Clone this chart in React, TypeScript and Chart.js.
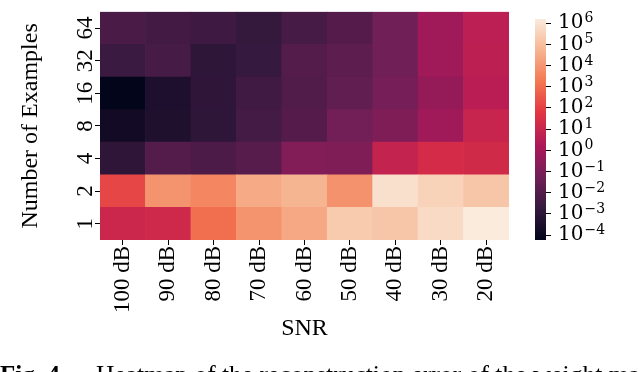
import React, { useEffect, useRef } from 'react';
import { Chart, registerables } from 'chart.js';

Chart.register(...registerables);

// ---- data (log10 of the reconstruction error) ----
const snrLabels = ['100 dB', '90 dB', '80 dB', '70 dB', '60 dB', '50 dB', '40 dB', '30 dB', '20 dB'];
const exampleLabels = ['1', '2', '4', '8', '16', '32', '64'];
const logErr1 = [1.09, 1.19, 3.07, 3.94, 4.43, 5.3, 5.21, 5.73, 6.2];
const logErr2 = [2.15, 3.94, 3.6, 4.47, 4.74, 3.9, 5.9, 5.52, 5.16];
const logErr4 = [-2.93, -1.99, -2.14, -1.88, -0.79, -0.89, 0.88, 1.35, 1.25];
const logErr8 = [-3.76, -3.4, -2.98, -2.35, -1.94, -1.21, -0.89, -0.08, 0.99];
const logErr16 = [-4.23, -3.45, -2.93, -2.46, -2.04, -1.62, -1.1, -0.37, 0.57];
const logErr32 = [-2.61, -2.31, -2.98, -2.72, -1.96, -1.73, -1.25, -0.08, 0.67];
const logErr64 = [-2.21, -2.38, -2.51, -2.77, -2.31, -1.94, -1.25, -0.08, 0.64];
const colorbarExponents = [-4, -3, -2, -1, 0, 1, 2, 3, 4, 5, 6];

const rows = [logErr1, logErr2, logErr4, logErr8, logErr16, logErr32, logErr64];
const allVals = rows.flat();
const vmin = Math.min(...allVals);
const vmax = Math.max(...allVals);

// ---- "rocket" colormap anchors (style) ----
const rocket: [number, number, number, number][] = [
  [0, 3, 5, 26],
  [1 / 7, 53, 25, 62],
  [2 / 7, 112, 31, 87],
  [3 / 7, 173, 23, 89],
  [4 / 7, 225, 51, 66],
  [5 / 7, 243, 118, 81],
  [6 / 7, 246, 180, 143],
  [1, 250, 235, 221],
];

function rocketColor(t: number): string {
  const x = Math.max(0, Math.min(1, t));
  for (let i = 0; i < rocket.length - 1; i++) {
    const a = rocket[i];
    const b = rocket[i + 1];
    if (x <= b[0]) {
      const f = (x - a[0]) / (b[0] - a[0]);
      const r = Math.round(a[1] + (b[1] - a[1]) * f);
      const g = Math.round(a[2] + (b[2] - a[2]) * f);
      const bl = Math.round(a[3] + (b[3] - a[3]) * f);
      return `rgb(${r},${g},${bl})`;
    }
  }
  const l = rocket[rocket.length - 1];
  return `rgb(${l[1]},${l[2]},${l[3]})`;
}

const SERIF = "'Liberation Serif', 'Times New Roman', serif";
const CB_FONT = "'DejaVu Serif', serif";

export default function App() {
  const mainRef = useRef<HTMLCanvasElement | null>(null);
  const cbRef = useRef<HTMLCanvasElement | null>(null);

  useEffect(() => {
    if (!mainRef.current || !cbRef.current) return;

    const captionPlugin = {
      id: 'caption',
      afterDraw(chart: any) {
        const ctx = chart.ctx;
        ctx.save();
        ctx.fillStyle = '#000';
        ctx.textBaseline = 'alphabetic';
        ctx.textAlign = 'left';
        ctx.font = `bold 25px ${SERIF}`;
        ctx.fillText('Fig. 4.', 0, 383);
        ctx.font = `25.5px ${SERIF}`;
        ctx.fillText('Heatmap of the reconstruction error of the weight matrix', 96, 383);
        ctx.restore();
      },
    };

    const main = new Chart(mainRef.current, {
      type: 'bar',
      data: {
        labels: snrLabels,
        datasets: rows.map((row, i) => ({
          label: exampleLabels[i],
          data: row.map(() => 1),
          backgroundColor: row.map((v) => rocketColor((v - vmin) / (vmax - vmin))),
          borderWidth: 0,
          barPercentage: 1,
          categoryPercentage: 1,
        })),
      },
      options: {
        responsive: false,
        animation: false,
        layout: { padding: { left: 0, top: 10, right: 131, bottom: 0 } },
        plugins: { legend: { display: false }, tooltip: { enabled: false } },
        scales: {
          x: {
            stacked: true,
            grid: { offset: false, drawOnChartArea: false, drawTicks: true, tickLength: 5, color: '#000', lineWidth: 1 },
            border: { display: false },
            ticks: {
              minRotation: 90,
              maxRotation: 90,
              autoSkip: false,
              color: '#000',
              padding: 1,
              font: { family: SERIF, size: 23 },
            },
            title: {
              display: true,
              text: 'SNR',
              color: '#000',
              font: { family: SERIF, size: 24, lineHeight: 1.2 },
              padding: { top: 0, bottom: 28.6 },
            },
            afterFit: (s: any) => {
              s.height = 132;
            },
          },
          y: {
            stacked: true,
            min: 0,
            max: 7,
            afterBuildTicks: (s: any) => {
              s.ticks = exampleLabels.map((_, i) => ({ value: i + 0.5 }));
            },
            grid: { drawOnChartArea: false, drawTicks: true, tickLength: 5, color: '#000', lineWidth: 1 },
            border: { display: false },
            ticks: {
              callback: (_v: any, i: number) => exampleLabels[i],
              minRotation: 90,
              maxRotation: 90,
              crossAlign: 'center',
              autoSkip: false,
              padding: -2,
              color: '#000',
              font: { family: SERIF, size: 23 },
            },
            title: {
              display: true,
              text: 'Number of Examples',
              color: '#000',
              font: { family: SERIF, size: 24, lineHeight: 1.2 },
              padding: { top: 16.6, bottom: 0 },
            },
            afterFit: (s: any) => {
              s.width = 100;
            },
          },
        },
      },
      plugins: [captionPlugin],
    } as any);

    const gradientPlugin = {
      id: 'cbGradient',
      beforeDatasetsDraw(chart: any) {
        const { ctx, chartArea } = chart;
        const ys = chart.scales.y;
        const yBottom = ys.getPixelForValue(vmin);
        const yTop = ys.getPixelForValue(vmax);
        const grad = ctx.createLinearGradient(0, yBottom, 0, yTop);
        rocket.forEach((a) => grad.addColorStop(a[0], `rgb(${a[1]},${a[2]},${a[3]})`));
        ctx.save();
        ctx.fillStyle = grad;
        ctx.fillRect(chartArea.left, yTop, chartArea.right - chartArea.left, yBottom - yTop);
        ctx.restore();
      },
    };

    const exponentPlugin = {
      id: 'cbExponents',
      afterDraw(chart: any) {
        const { ctx } = chart;
        const ys = chart.scales.y;
        ctx.save();
        ctx.font = `20px ${CB_FONT}`;
        const baseW = ctx.measureText('10').width;
        ctx.font = `14px ${CB_FONT}`;
        ctx.fillStyle = '#000';
        ctx.textAlign = 'left';
        ctx.textBaseline = 'alphabetic';
        const x0 = ys.left + 5 + 7 + baseW + 1;
        colorbarExponents.forEach((e) => {
          const y = ys.getPixelForValue(e);
          const txt = e < 0 ? '\u2212' + String(-e) : String(e);
          ctx.fillText(txt, x0, y - 1);
        });
        ctx.restore();
      },
    };

    const cb = new Chart(cbRef.current, {
      type: 'bar',
      data: { labels: [''], datasets: [] },
      options: {
        responsive: false,
        animation: false,
        layout: { padding: { left: 35, top: 10, right: 0, bottom: 132 } },
        plugins: { legend: { display: false }, tooltip: { enabled: false } },
        scales: {
          x: { display: false },
          y: {
            position: 'right',
            min: vmin,
            max: vmax,
            afterBuildTicks: (s: any) => {
              s.ticks = colorbarExponents.map((v) => ({ value: v }));
            },
            grid: { drawOnChartArea: false, drawTicks: true, tickLength: 5, color: '#000', lineWidth: 1 },
            border: { display: false },
            ticks: {
              callback: () => '10',
              autoSkip: false,
              padding: 7,
              color: '#000',
              font: { family: CB_FONT, size: 20 },
            },
            afterFit: (s: any) => {
              s.width = 94;
            },
          },
        },
      },
      plugins: [gradientPlugin, exponentPlugin],
    } as any);

    return () => {
      main.destroy();
      cb.destroy();
    };
  }, []);

  return (
    <div style={{ position: 'fixed', left: 0, top: 0, width: 640, height: 372, background: '#fff', overflow: 'hidden' }}>
      <canvas ref={mainRef} width={640} height={372} style={{ position: 'absolute', left: 0, top: 0, width: 640, height: 372 }} />
      <canvas ref={cbRef} width={140} height={372} style={{ position: 'absolute', left: 500, top: 0, width: 140, height: 372 }} />
    </div>
  );
}
